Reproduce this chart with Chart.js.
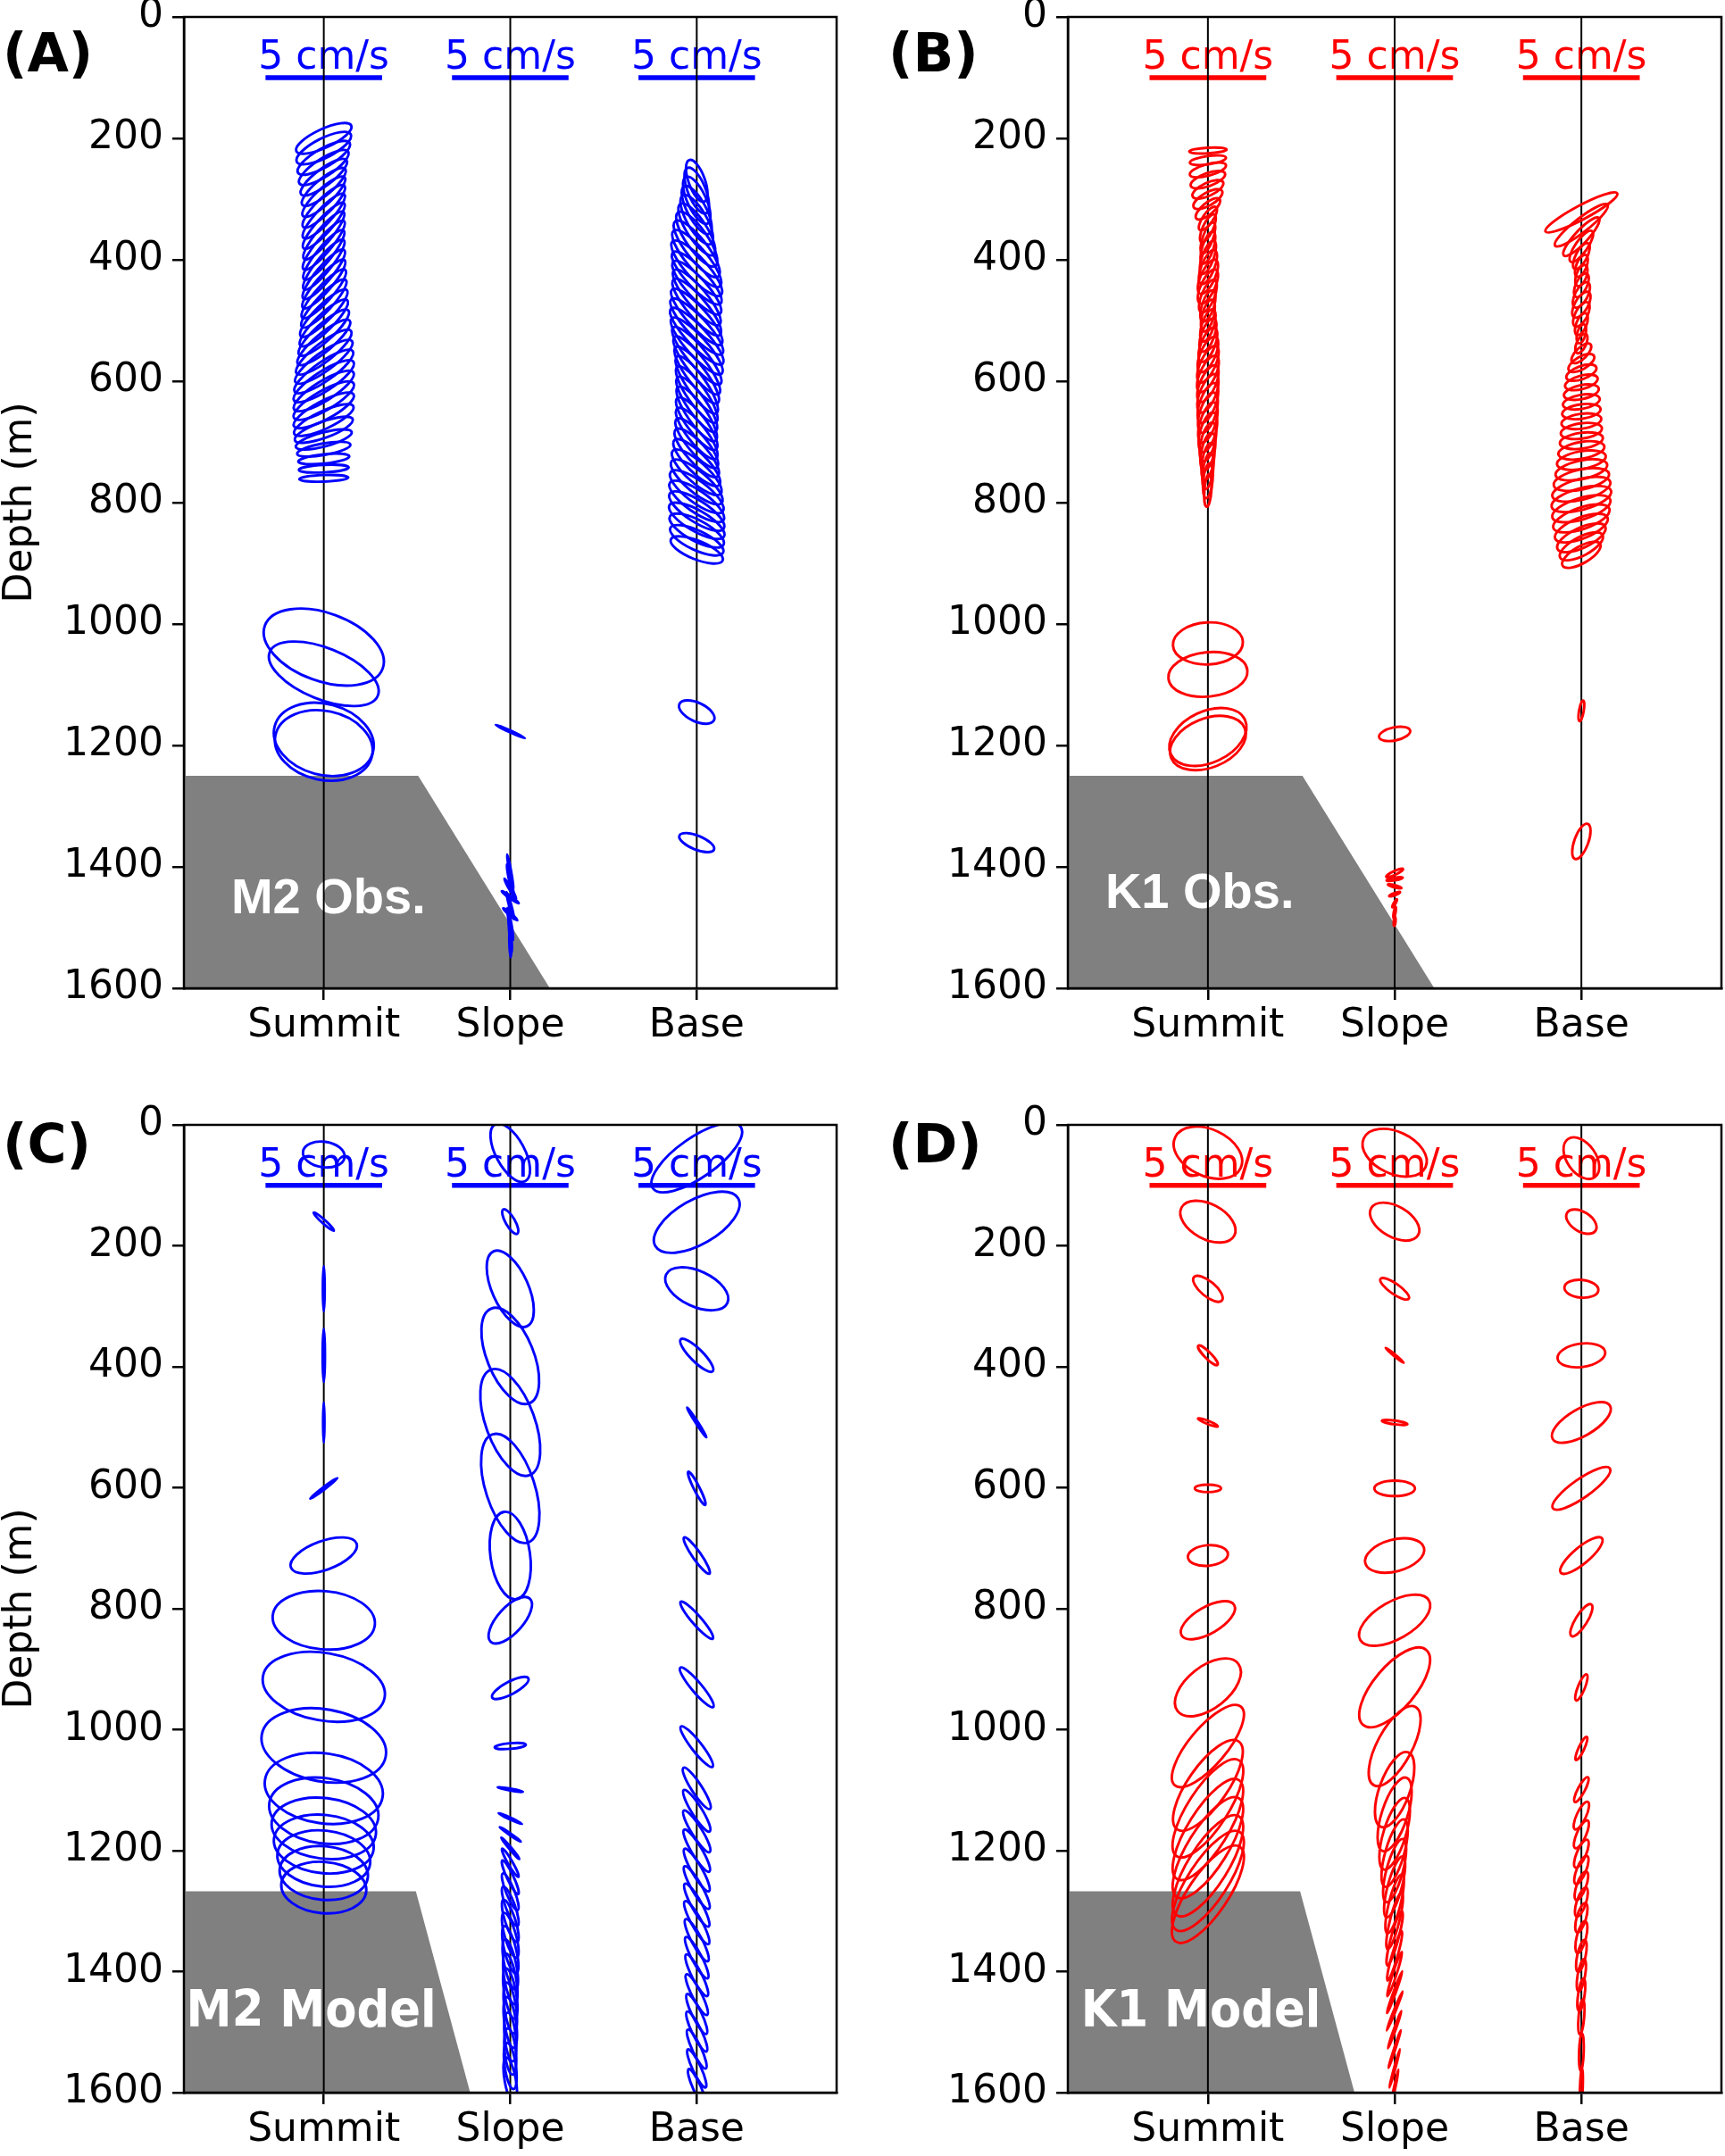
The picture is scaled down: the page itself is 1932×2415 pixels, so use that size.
<!DOCTYPE html>
<html>
<head>
<meta charset="utf-8">
<script src="https://cdn.jsdelivr.net/npm/chart.js"></script>
<style>
  html, body { margin: 0; padding: 0; background: #fff; }
  body { width: 1932px; height: 2415px; position: relative; overflow: hidden; }
  canvas { position: absolute; }
</style>
</head>
<body>
<canvas id="panel-a" width="966" height="1207" style="left:0;top:0"></canvas>
<canvas id="panel-b" width="966" height="1207" style="left:966px;top:0"></canvas>
<canvas id="panel-c" width="966" height="1208" style="left:0;top:1207px"></canvas>
<canvas id="panel-d" width="966" height="1208" style="left:966px;top:1207px"></canvas>
<script>
// stations are offset along x in cm/s units (8 cm/s apart)
const stations = ['Summit', 'Slope', 'Base'];
const stationX = [0, 8, 16];
const depthTicks = [0, 200, 400, 600, 800, 1000, 1200, 1400, 1600];
const speedBar = 5;

// seamount outline [x (cm/s units), depth m]
const obsFloor = [[-6, 1250], [4.05, 1250], [9.7, 1600], [-6, 1600]];
const modelFloor = [[-6, 1267], [3.95, 1267], [6.28, 1600], [-6, 1600]];

// tidal ellipses: [depth m, semi-major cm/s, semi-minor cm/s, inclination deg]
const m2ObsSummit = [
  [200,1.30,0.40,25],[216,1.30,0.42,27],[232,1.28,0.40,30],[248,1.25,0.38,33],[264,1.22,0.36,37],
  [280,1.20,0.35,40],[296,1.22,0.34,43],[312,1.25,0.33,45],[328,1.28,0.33,47],[344,1.30,0.32,48],
  [360,1.32,0.32,50],[376,1.35,0.32,50],[392,1.35,0.32,51],[408,1.36,0.32,51],[424,1.36,0.33,50],
  [440,1.36,0.33,49],[456,1.38,0.34,48],[472,1.38,0.34,47],[488,1.40,0.35,45],[504,1.40,0.36,44],
  [520,1.42,0.37,42],[536,1.45,0.38,40],[552,1.48,0.40,38],[568,1.50,0.40,36],[584,1.52,0.41,35],
  [600,1.52,0.42,33],[616,1.50,0.42,32],[632,1.48,0.42,30],[648,1.45,0.40,28],[664,1.40,0.38,25],
  [680,1.32,0.35,20],[696,1.24,0.30,15],[712,1.16,0.25,10],[728,1.10,0.20,6],[744,1.07,0.16,3],
  [760,1.05,0.14,2],
  [1038,2.69,1.46,-20],[1082,2.50,1.10,-22],[1190,2.18,1.52,-15],[1200,2.12,1.48,-12]
];
const m2ObsSlope = [
  [1177,0.69,0.04,-25],[1408,0.75,0.04,-80],[1422,0.70,0.05,-78],[1436,0.50,0.05,-60],[1450,0.45,0.05,-35],
  [1464,0.60,0.05,-75],[1478,0.40,0.05,-40],[1494,0.70,0.05,-80],[1510,0.80,0.04,-85],[1526,0.60,0.04,-88]
];
const m2ObsBase = [
  [270,0.95,0.35,-70],[286,1.05,0.38,-68],[302,1.10,0.40,-65],[318,1.15,0.40,-62],[334,1.20,0.42,-60],
  [350,1.30,0.42,-57],[366,1.40,0.45,-55],[382,1.50,0.45,-52],[398,1.55,0.45,-50],[414,1.55,0.45,-48],
  [430,1.50,0.42,-47],[446,1.50,0.42,-48],[462,1.52,0.42,-50],[478,1.55,0.42,-50],[494,1.58,0.42,-48],
  [510,1.60,0.42,-47],[526,1.62,0.42,-47],[542,1.60,0.42,-48],[558,1.58,0.40,-50],[574,1.55,0.40,-52],
  [590,1.50,0.40,-53],[606,1.48,0.40,-55],[622,1.45,0.40,-55],[638,1.42,0.40,-55],[654,1.40,0.40,-55],
  [670,1.38,0.40,-53],[686,1.36,0.40,-52],[702,1.35,0.40,-50],[718,1.35,0.42,-48],[734,1.36,0.42,-45],
  [750,1.38,0.44,-42],[766,1.40,0.45,-40],[782,1.40,0.46,-37],[798,1.40,0.46,-35],[814,1.38,0.46,-33],
  [830,1.35,0.45,-30],[846,1.30,0.45,-28],[862,1.25,0.42,-25],[878,1.20,0.40,-22],
  [1145,0.82,0.40,-25],[1360,0.80,0.30,-22]
];

const k1ObsSummit = [
  [220,0.80,0.12,3],[236,0.78,0.18,8],[252,0.80,0.25,15],[268,0.78,0.28,20],[284,0.72,0.28,25],
  [300,0.70,0.28,30],[316,0.65,0.25,40],[332,0.60,0.22,55],[348,0.65,0.22,65],[364,0.70,0.22,70],
  [380,0.72,0.24,72],[396,0.75,0.25,70],[412,0.78,0.28,68],[428,0.80,0.30,65],[444,0.80,0.30,65],
  [460,0.75,0.28,68],[476,0.70,0.26,72],[492,0.70,0.25,75],[508,0.72,0.26,72],[524,0.75,0.28,70],
  [540,0.78,0.30,68],[556,0.82,0.32,66],[572,0.85,0.32,65],[588,0.85,0.33,65],[604,0.85,0.33,66],
  [620,0.88,0.34,68],[636,0.90,0.34,70],[652,0.90,0.34,72],[668,0.90,0.33,72],[684,0.88,0.33,74],
  [700,0.85,0.30,76],[716,0.82,0.28,78],[732,0.80,0.25,80],[748,0.78,0.22,82],[764,0.75,0.20,84],
  [780,0.70,0.15,86],
  [1032,1.50,0.90,3],[1083,1.70,0.95,6],[1186,1.75,1.10,25],[1196,1.70,1.05,22]
];
const k1ObsSlope = [
  [1181,0.68,0.28,12],[1410,0.40,0.08,25],[1420,0.35,0.06,10],[1432,0.30,0.05,-15],
  [1445,0.25,0.05,20],[1460,0.20,0.04,60],[1475,0.25,0.04,80],[1490,0.20,0.04,85]
];
const k1ObsBase = [
  [322,1.74,0.30,28],[343,1.43,0.30,38],[362,1.10,0.28,47],[378,0.80,0.26,55],[394,0.62,0.24,62],
  [410,0.50,0.22,68],[426,0.48,0.22,70],[442,0.55,0.24,65],[458,0.60,0.27,62],[474,0.62,0.28,60],
  [490,0.58,0.26,62],[506,0.50,0.22,68],[522,0.42,0.18,75],[538,0.45,0.20,65],[554,0.55,0.24,45],
  [570,0.62,0.27,30],[586,0.68,0.28,20],[602,0.72,0.29,15],[618,0.76,0.30,12],[634,0.80,0.30,10],
  [650,0.83,0.31,8],[666,0.86,0.32,8],[682,0.89,0.33,8],[698,0.93,0.34,8],[714,1.00,0.36,10],
  [730,1.06,0.38,10],[746,1.13,0.40,12],[762,1.21,0.43,12],[778,1.28,0.45,14],[794,1.32,0.46,15],
  [810,1.30,0.46,17],[826,1.27,0.46,19],[842,1.21,0.45,22],[858,1.13,0.43,25],[872,1.03,0.40,28],
  [886,0.93,0.36,30],
  [1143,0.45,0.10,80],[1358,0.80,0.30,70]
];

const m2ModelSummit = [
  [49,0.90,0.55,-8],[160,0.58,0.08,-42],[271,0.97,0.04,90],[381,1.14,0.05,90],[492,0.86,0.03,90],
  [601,0.73,0.05,37],[712,1.50,0.62,20],[819,2.20,1.25,-5],[929,2.65,1.45,-10],[1026,2.70,1.55,-10],
  [1097,2.55,1.50,-8],[1134,2.36,1.40,-8],[1163,2.25,1.30,-7],[1189,2.15,1.25,-6],[1213,2.00,1.20,-6],
  [1237,1.90,1.15,-5],[1261,1.83,1.10,-5]
];
const m2ModelSlope = [
  [46,1.38,0.62,-62],[160,0.60,0.20,-60],[271,1.76,0.78,-66],[382,2.19,1.00,-68],[492,2.41,1.05,-70],
  [601,2.44,1.05,-72],[712,1.89,0.85,-82],[819,1.25,0.55,48],[931,0.88,0.27,28],[1027,0.67,0.12,5],
  [1099,0.55,0.04,-10],[1147,0.55,0.04,-25],[1173,0.55,0.04,-35],[1196,0.60,0.05,-50],[1220,0.70,0.10,-60],
  [1244,0.80,0.14,-65],[1268,0.85,0.18,-68],[1292,0.90,0.20,-70],[1316,0.95,0.22,-72],[1340,1.00,0.24,-74],
  [1364,1.05,0.25,-76],[1388,1.10,0.25,-78],[1412,1.10,0.25,-80],[1436,1.10,0.25,-80],[1460,1.10,0.25,-82],
  [1484,1.10,0.25,-82],[1508,1.05,0.24,-84],[1532,1.00,0.24,-84],[1556,1.00,0.24,-82],[1580,1.00,0.24,-80]
];
const m2ModelBase = [
  [54,2.30,0.85,35],[161,2.05,0.95,30],[271,1.45,0.76,-25],[381,0.97,0.27,-45],[492,0.76,0.05,-57],
  [601,0.80,0.12,-63],[712,0.95,0.18,-55],[819,1.05,0.20,-49],[930,1.10,0.22,-50],[1028,1.10,0.22,-52],
  [1097,1.05,0.22,-57],[1134,1.05,0.22,-58],[1168,1.05,0.22,-58],[1200,1.05,0.22,-59],[1232,1.05,0.22,-60],
  [1261,1.05,0.22,-60],[1290,1.05,0.22,-61],[1319,1.05,0.22,-61],[1348,1.02,0.22,-62],[1377,1.00,0.21,-62],
  [1406,1.00,0.21,-63],[1438,0.98,0.20,-63],[1470,0.95,0.20,-64],[1499,0.95,0.20,-64],[1528,0.92,0.19,-65],
  [1560,0.90,0.18,-65],[1591,0.85,0.17,-66]
];

const k1ModelSummit = [
  [46,1.55,1.00,-25],[160,1.28,0.75,-28],[271,0.78,0.32,-40],[381,0.58,0.14,-45],[492,0.46,0.07,-22],
  [601,0.56,0.16,0],[712,0.86,0.44,5],[819,1.30,0.57,30],[930,1.65,0.90,38],[1027,2.20,0.80,50],
  [1092,2.30,0.85,55],[1130,2.45,0.85,57],[1165,2.50,0.85,58],[1195,2.50,0.85,58],[1225,2.50,0.85,58],
  [1250,2.50,0.85,57],[1272,2.45,0.85,56]
];
const k1ModelSlope = [
  [46,1.46,0.90,-25],[160,1.16,0.66,-30],[271,0.74,0.22,-35],[381,0.50,0.04,-40],[492,0.55,0.08,-8],
  [601,0.87,0.33,0],[712,1.30,0.68,15],[819,1.70,0.80,30],[930,2.10,0.90,50],[1027,1.90,0.75,62],
  [1099,1.70,0.65,70],[1140,1.65,0.55,72],[1172,1.60,0.48,73],[1204,1.50,0.40,74],[1233,1.40,0.35,75],
  [1260,1.35,0.30,75],[1288,1.30,0.25,76],[1316,1.25,0.20,76],[1345,1.20,0.16,75],[1374,1.10,0.12,74],
  [1404,1.00,0.08,72],[1434,0.95,0.05,70],[1465,0.90,0.04,68],[1496,0.85,0.04,70],[1528,0.85,0.03,72],
  [1560,0.85,0.03,75],[1592,0.80,0.03,78]
];
const k1ModelBase = [
  [55,1.00,0.62,-55],[160,0.72,0.42,-32],[271,0.73,0.38,-5],[381,1.03,0.50,8],[492,1.42,0.58,30],
  [601,1.49,0.40,35],[712,1.15,0.35,40],[819,0.80,0.25,58],[930,0.60,0.15,68],[1031,0.55,0.12,65],
  [1099,0.60,0.15,62],[1142,0.65,0.20,65],[1173,0.65,0.20,66],[1205,0.65,0.20,67],[1232,0.65,0.20,68],
  [1258,0.65,0.20,70],[1285,0.65,0.20,72],[1311,0.65,0.20,74],[1343,0.70,0.20,76],[1374,0.70,0.18,78],
  [1406,0.70,0.16,80],[1438,0.70,0.14,82],[1475,0.75,0.12,85],[1533,0.80,0.10,88],[1591,0.80,0.06,88]
];

Chart.defaults.font.family = '"DejaVu Sans", sans-serif';
Chart.defaults.color = '#000';

function decorPlugin(p) {
  return {
    id: 'decor',
    afterDatasetsDraw(chart) {
      const { ctx, chartArea: a, scales: { x, y } } = chart;
      const px = (v) => x.getPixelForValue(v);
      const py = (v) => y.getPixelForValue(v);
      const perCm = px(1) - px(0);

      ctx.save();
      ctx.beginPath();
      ctx.rect(a.left, a.top, a.right - a.left, a.bottom - a.top);
      ctx.clip();

      // seamount
      ctx.fillStyle = '#808080';
      ctx.beginPath();
      p.floor.forEach(([fx, fd], i) => (i ? ctx.lineTo(px(fx), py(fd)) : ctx.moveTo(px(fx), py(fd))));
      ctx.closePath();
      ctx.fill();

      ctx.fillStyle = '#fff';
      ctx.font = p.nameFont;
      ctx.textAlign = 'center';
      ctx.textBaseline = 'alphabetic';
      ctx.fillText(p.name, px(p.nameAt[0]), py(p.nameAt[1]));

      // 5 cm/s scale bars
      ctx.fillStyle = p.color;
      ctx.strokeStyle = p.color;
      ctx.font = '44px "DejaVu Sans"';
      stationX.forEach((sx) => {
        ctx.fillText(`${speedBar} cm/s`, px(sx), py(86));
        ctx.lineWidth = 5.5;
        ctx.beginPath();
        ctx.moveTo(px(sx - speedBar / 2), py(100));
        ctx.lineTo(px(sx + speedBar / 2), py(100));
        ctx.stroke();
      });

      // mooring lines
      ctx.strokeStyle = '#000';
      ctx.lineWidth = 2;
      stationX.forEach((sx) => {
        ctx.beginPath();
        ctx.moveTo(px(sx), a.top);
        ctx.lineTo(px(sx), a.bottom);
        ctx.stroke();
      });

      // ellipses, centred on the dataset points
      ctx.strokeStyle = p.color;
      ctx.lineWidth = 2.9;
      p.profiles.forEach((rows, i) => {
        const pts = chart.getDatasetMeta(i).data;
        rows.forEach(([, major, minor, ang], j) => {
          ctx.beginPath();
          ctx.ellipse(pts[j].x, pts[j].y, major * perCm, minor * perCm, -ang * Math.PI / 180, 0, 2 * Math.PI);
          ctx.stroke();
        });
      });
      ctx.restore();

      ctx.save();
      ctx.strokeStyle = '#000';
      ctx.lineWidth = 2.5;
      ctx.strokeRect(a.left, a.top, a.right - a.left, a.bottom - a.top);
      ctx.fillStyle = '#000';
      ctx.font = 'bold 60px "DejaVu Sans"';
      ctx.textAlign = 'left';
      ctx.textBaseline = 'alphabetic';
      ctx.fillText(p.letter, p.letterAt[0], p.letterAt[1]);
      ctx.restore();
    }
  };
}

function makePanel(id, p) {
  const tickFont = { family: 'DejaVu Sans', size: 44 };
  const grid = { drawOnChartArea: false, drawTicks: true, tickLength: 13, color: '#000', lineWidth: 2.5 };
  const border = { display: true, color: '#000', width: 2.5 };
  return new Chart(document.getElementById(id), {
    type: 'scatter',
    data: {
      datasets: p.profiles.map((rows, i) => ({
        label: stations[i],
        data: rows.map((r) => ({ x: stationX[i], y: r[0] })),
        pointRadius: 0,
        pointHoverRadius: 0
      }))
    },
    options: {
      responsive: false,
      animation: false,
      devicePixelRatio: 1,
      events: [],
      layout: { padding: { top: p.padTop, right: p.padRight, left: 0, bottom: 0 } },
      plugins: { legend: { display: false }, tooltip: { enabled: false } },
      scales: {
        x: {
          type: 'linear',
          min: -6,
          max: 22,
          afterFit: (s) => { s.height = p.xAxisH; s.paddingLeft = 0; s.paddingRight = 0; },
          afterBuildTicks: (s) => { s.ticks = stationX.map((v) => ({ value: v })); },
          ticks: {
            callback: (v) => stations[stationX.indexOf(v)],
            font: tickFont, color: '#000', padding: 3, maxRotation: 0, autoSkip: false
          },
          grid, border
        },
        y: {
          type: 'linear',
          reverse: true,
          min: 0,
          max: 1600,
          afterFit: (s) => { s.width = p.yAxisW; s.paddingTop = 0; s.paddingBottom = 0; },
          afterBuildTicks: (s) => { s.ticks = depthTicks.map((v) => ({ value: v })); },
          ticks: { callback: (v) => String(v), font: tickFont, color: '#000', padding: 10 },
          title: {
            display: p.showTitle,
            text: 'Depth (m)',
            font: { family: 'DejaVu Sans', size: 44, lineHeight: 1.05 },
            color: '#000',
            padding: 0
          },
          grid, border
        }
      }
    },
    plugins: [decorPlugin(p)]
  });
}

const obsFont = 'bold 56px "Liberation Sans", Arial, sans-serif';
const modelFont = 'bold 57px "DejaVu Sans Condensed", "DejaVu Sans", sans-serif';

makePanel('panel-a', {
  letter: '(A)', letterAt: [3, 80], color: '#0000ff',
  name: 'M2 Obs.', nameFont: obsFont, nameAt: [0.2, 1476],
  floor: obsFloor, profiles: [m2ObsSummit, m2ObsSlope, m2ObsBase],
  padTop: 19, padRight: 29, yAxisW: 206, xAxisH: 100, showTitle: true
});
makePanel('panel-b', {
  letter: '(B)', letterAt: [29, 80], color: '#ff0000',
  name: 'K1 Obs.', nameFont: obsFont, nameAt: [-0.35, 1468],
  floor: obsFloor, profiles: [k1ObsSummit, k1ObsSlope, k1ObsBase],
  padTop: 19, padRight: 4, yAxisW: 230, xAxisH: 100, showTitle: false
});
makePanel('panel-c', {
  letter: '(C)', letterAt: [3, 95], color: '#0000ff',
  name: 'M2 Model', nameFont: modelFont, nameAt: [-0.54, 1491],
  floor: modelFloor, profiles: [m2ModelSummit, m2ModelSlope, m2ModelBase],
  padTop: 53, padRight: 29, yAxisW: 206, xAxisH: 71, showTitle: true
});
makePanel('panel-d', {
  letter: '(D)', letterAt: [29, 95], color: '#ff0000',
  name: 'K1 Model', nameFont: modelFont, nameAt: [-0.3, 1491],
  floor: modelFloor, profiles: [k1ModelSummit, k1ModelSlope, k1ModelBase],
  padTop: 53, padRight: 4, yAxisW: 230, xAxisH: 71, showTitle: false
});
</script>
</body>
</html>
